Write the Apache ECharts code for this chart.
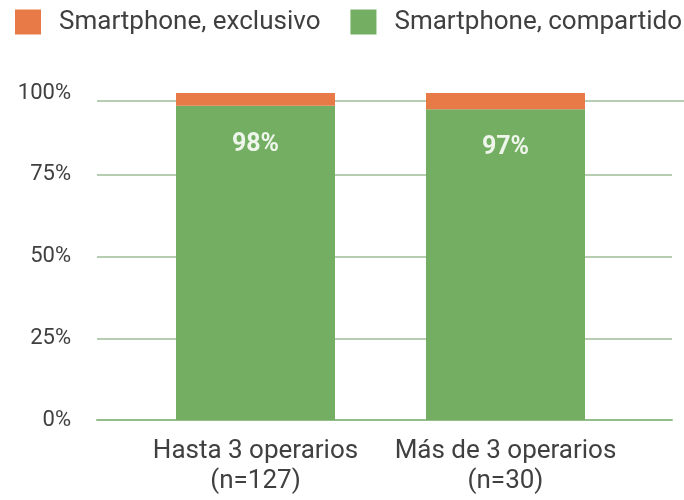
<!DOCTYPE html>
<html>
<head>
<meta charset="utf-8">
<script src="https://cdn.jsdelivr.net/npm/echarts@6/dist/echarts.min.js"></script>
<style>html,body{margin:0;padding:0;background:#fff}#c{width:684px;height:500px}</style>
</head>
<body>
<div id="c"></div>
<script>
const categories = ['Hasta 3 operarios\n(n=127)', 'Más de 3 operarios\n(n=30)'];
const seriesNames = ['Smartphone, exclusivo', 'Smartphone, compartido'];
const sharedValues = [96.1, 95.0];
const exclusiveValues = [3.9, 5.0];
const sharedLabels = ['98%', '97%'];
const yMin = 0, yMax = 100, yInterval = 25;
const topRuleValue = 97.5;

const FONT = 'Roboto';
const TXT = '#404040';
const ORANGE = '#E87A48';
const GREEN = '#74AE63';
const GRIDC = '#b7cdb2';

const chart = echarts.init(document.getElementById('c'));
chart.setOption({
  animation: false,
  backgroundColor: '#fff',
  textStyle: { fontFamily: FONT },
  legend: {
    data: seriesNames,
    left: 15, top: 9, padding: 0,
    itemWidth: 26, itemHeight: 25, itemGap: 30,
    icon: 'rect',
    textStyle: { fontFamily: FONT, fontSize: 26, color: TXT, padding: [0, 0, 0, 13] }
  },
  grid: [
    { left: 97, right: 12, top: 93, bottom: 80 },
    { left: 130.5, right: 53.5, top: 93, bottom: 80 },
    { left: 97, right: 0, top: 93, bottom: 80 }
  ],
  xAxis: [
    { gridIndex: 0, type: 'category', data: categories,
      axisLine: { show: true, lineStyle: { color: '#93bd8b', width: 2 } },
      axisTick: { show: false }, axisLabel: { show: false } },
    { gridIndex: 1, type: 'category', data: categories,
      axisLine: { show: false }, axisTick: { show: false },
      axisLabel: { interval: 0, fontFamily: FONT, fontSize: 26, color: TXT, lineHeight: 30, margin: 16 } },
    { gridIndex: 2, type: 'category', data: categories, show: false }
  ],
  yAxis: [
    { gridIndex: 0, type: 'value', min: yMin, max: yMax, interval: yInterval,
      axisLine: { show: false }, axisTick: { show: false },
      axisLabel: { fontFamily: FONT, fontSize: 22, color: TXT, margin: 26, formatter: v => v + '%' },
      splitLine: { show: true, showMaxLine: false, showMinLine: false, lineStyle: { color: GRIDC, width: 2 } } },
    { gridIndex: 1, type: 'value', min: yMin, max: yMax, interval: yInterval, show: false, splitLine: { show: false } },
    { gridIndex: 2, type: 'value', min: yMin, max: yMax, interval: yInterval, show: false, splitLine: { show: false } }
  ],
  series: [
    {
      type: 'line', xAxisIndex: 2, yAxisIndex: 2, data: [], z: 0, silent: true,
      markLine: { silent: true, z: 0, symbol: 'none', label: { show: false },
        lineStyle: { color: GRIDC, width: 2, type: 'solid' },
        data: [{ yAxis: topRuleValue }] },
    },
    {
      name: seriesNames[1], type: 'bar', stack: 's', xAxisIndex: 1, yAxisIndex: 1,
      data: sharedValues, barWidth: 159, z: 10,
      itemStyle: { color: GREEN },
      label: { show: true, position: 'insideTop', distance: 26,
        formatter: p => sharedLabels[p.dataIndex],
        fontFamily: FONT, fontSize: 25, fontWeight: 'bold', color: '#eef5ea' }
    },
    {
      name: seriesNames[0], type: 'bar', stack: 's', xAxisIndex: 1, yAxisIndex: 1,
      data: exclusiveValues, barWidth: 159, z: 10,
      itemStyle: { color: ORANGE }
    }
  ]
});
</script>
</body>
</html>
